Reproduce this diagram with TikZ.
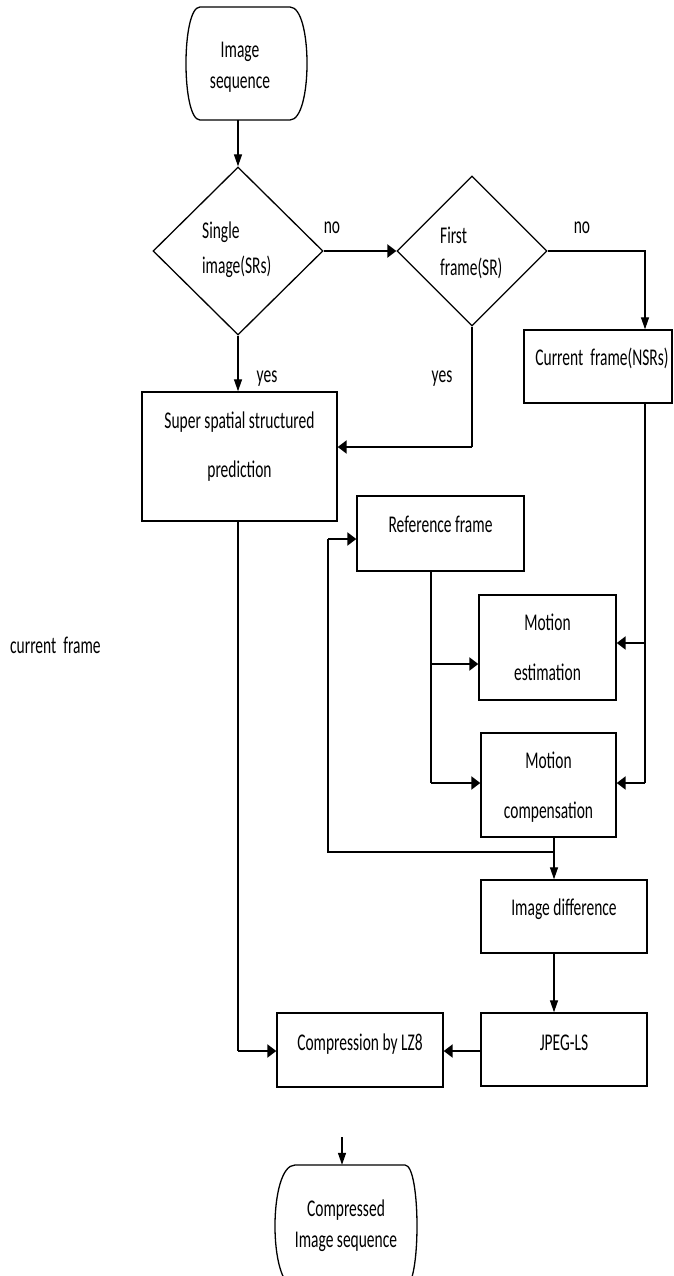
\documentclass[tikz,border=0pt]{standalone}
\usepackage{fontspec}
\setmainfont{Carlito}[FakeStretch=0.645]
\usetikzlibrary{arrows.meta,shapes.geometric}
\newcommand\myfs{\fontsize{24}{28}\selectfont}
\begin{document}
\begin{tikzpicture}[x=1pt,y=-1pt,
  box/.style={draw,line width=1.4pt,rectangle,inner sep=0pt},
  term/.style={rectangle,inner sep=0pt},
  tline/.style={line width=1.3pt},
  dia/.style={draw,line width=1.3pt,diamond,inner sep=0pt},
  txt/.style={inner sep=0pt,anchor=base,font=\myfs},
  txtl/.style={inner sep=0pt,anchor=base west,font=\myfs},
  ln/.style={line width=1.3pt},
  vc/.style={line width=1.3pt,-{Triangle[length=12pt,width=8pt]}},
  hc/.style={line width=2.5pt,-{Triangle[length=9pt,width=13pt]}}
]
\useasboundingbox (0,0) rectangle (673,1276);

% shapes
\node[term,minimum width=121pt,minimum height=113pt] (start) at (246.5,63.5) {};
\draw[tline] (200,7) -- (290,7) .. controls (312.7,7) and (312.7,120) .. (290,120)
  -- (200,120) .. controls (181.3,120) and (181.3,7) .. (200,7) -- cycle;
\node[dia,minimum width=170pt,minimum height=168pt] (d1) at (238,251) {};
\node[dia,minimum width=150pt,minimum height=150pt] (d2) at (472,251) {};
\node[box,minimum width=148pt,minimum height=73pt] (cur) at (598,366.5) {};
\node[box,minimum width=195pt,minimum height=129pt] (sup) at (239.5,456.5) {};
\node[box,minimum width=167pt,minimum height=75pt] (ref) at (440.5,533.5) {};
\node[box,minimum width=137pt,minimum height=105pt] (me) at (547.5,647.5) {};
\node[box,minimum width=135pt,minimum height=104pt] (mc) at (548.5,785) {};
\node[box,minimum width=166pt,minimum height=73pt] (idf) at (564,916.5) {};
\node[box,minimum width=166pt,minimum height=73pt] (jp) at (564,1049.5) {};
\node[box,minimum width=166pt,minimum height=74pt] (cmp) at (360,1050) {};
\node[term,minimum width=142pt,minimum height=122pt] (end) at (346,1226) {};
\draw[tline] (295,1165) -- (405,1165) .. controls (421,1165) and (421,1287) .. (405,1287)
  -- (295,1287) .. controls (268.3,1287) and (268.3,1165) .. (295,1165) -- cycle;

% texts
\node[txt] (t1) at (240,58) {Image};
\node[txt] (t2) at (240,89) {sequence};
\node[txtl] (t3) at (202,238) {Single};
\node[txtl] (t4) at (202,273) {image(SRs)};
\node[txtl] (t5) at (440,243) {First};
\node[txtl] (t6) at (440,275) {frame(SR)};
\node[txt] (t7) at (332,233) {no};
\node[txt] (t8) at (582,233) {no};
\node[txt] (t9) at (602,365) {Current\ \ frame(NSRs)};
\node[txt] (t10) at (267,382) {yes};
\node[txt] (t11) at (442,382) {yes};
\node[txt] (t12) at (239.5,428) {Super spatial structured};
\node[txt] (t13) at (239.5,477) {prediction};
\node[txt] (t14) at (440.5,532) {Reference frame};
\node[txt] (t15) at (547.5,630) {Motion};
\node[txt] (t16) at (547.5,680) {estimation};
\node[txt] (t17) at (548.5,768) {Motion};
\node[txt] (t18) at (548.5,818) {compensation};
\node[txt] (t19) at (564,915) {Image difference};
\node[txt] (t20) at (564,1050) {JPEG-LS};
\node[txt] (t21) at (360,1050) {Compression by LZ8};
\node[txt] (t22) at (346,1216) {Compressed};
\node[txt] (t23) at (346,1247) {Image sequence};
\node[txtl] (t24) at (10,653) {current\ \ frame};

% connectors
\draw[vc] (d1.north |- start.south) -- (d1.north);
\draw[hc] (d1.east) -- (d2.west);
\coordinate (j1) at (645,251);
\draw[vc] (d2.east) -- (j1) -- (j1 |- cur.north);
\draw[vc] (d1.south) -- (d1.south |- sup.north);
\coordinate (k1) at (472,447);
\draw[ln] (d2.south) -- (k1);
\draw[hc] (k1) -- (sup.east |- k1);

\coordinate (r2) at (645,643);
\coordinate (r3) at (645,783);
\draw[ln] (cur.south -| r3) -- (r3);
\draw[hc] (r2) -- (me.east |- r2);
\draw[hc] (r3) -- (mc.east |- r3);

\coordinate (l1) at (431,664);
\coordinate (l2) at (431,783);
\draw[ln] (ref.south -| l2) -- (l2);
\draw[hc] (l1) -- (me.west |- l1);
\draw[hc] (l2) -- (mc.west |- l2);

\coordinate (m1) at (554,852);
\coordinate (f1) at (328,852);
\coordinate (f2) at (328,539);
\draw[vc] (mc.south -| m1) -- (idf.north -| m1);
\draw[ln] (m1) -- (f1) -- (f2);
\draw[hc] (f2) -- (ref.west |- f2);
\draw[vc] (idf.south -| m1) -- (jp.north -| m1);

\coordinate (c1) at (0,1051);
\draw[hc] (jp.west |- c1) -- (cmp.east |- c1);
\coordinate (s1) at (238,1051);
\draw[ln] (sup.south -| s1) -- (s1);
\draw[hc] (s1) -- (cmp.west |- s1);

\coordinate (e0) at (342,1137);
\draw[vc] (e0) -- (e0 |- end.north);
\end{tikzpicture}
\end{document}
